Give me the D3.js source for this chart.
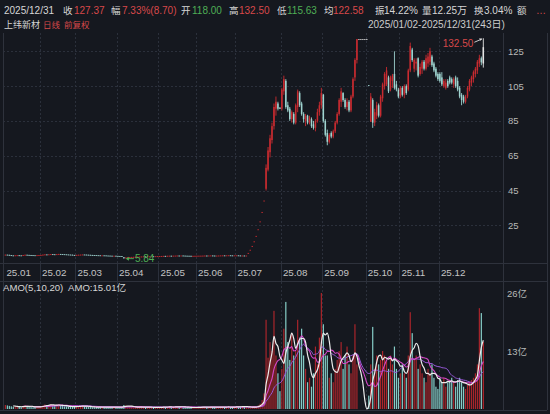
<!DOCTYPE html>
<html><head><meta charset="utf-8">
<script src="https://cdn.jsdelivr.net/npm/d3@7"></script>
<style>
html,body{margin:0;padding:0;background:#15181f;}
svg{display:block;font-family:"Liberation Sans","Noto Sans CJK SC",sans-serif;}
</style></head>
<body><svg id="c" width="550" height="414"></svg>
<script>
// ---------- DATA ----------
const monthLabels = ["25.01","25.02","25.03","25.04","25.05","25.06","25.07","25.08","25.09","25.10","25.11","25.12"];
const monthStart  = [0,18,36,57,78,97,117,140,161,183,200,220];   // trading-day index of each month's first day
const priceTicks  = [25,45,65,85,105,125];
const amoTicks    = [13,26];

const open = [
 8.05,8.10,8.02,7.85,7.70,7.62,7.75,7.80,7.72,7.68,7.90,8.05,7.98,7.92,7.85,7.80,7.76,7.82,
 7.88,7.95,8.10,8.25,8.18,8.30,8.42,8.35,8.28,8.40,8.52,8.45,8.38,8.30,8.22,8.15,8.08,7.95,
 7.90,7.98,8.05,8.12,8.20,8.15,8.08,8.02,7.96,7.90,7.85,7.80,7.76,7.70,7.72,7.68,7.60,7.55,7.50,7.45,7.48,
 7.40,7.35,7.30,6.60,6.20,6.45,6.60,6.72,6.80,6.85,6.90,6.95,7.02,7.05,7.10,7.08,7.12,7.15,7.20,7.18,7.22,
 7.25,7.30,7.35,7.40,7.38,7.45,7.50,7.48,7.52,7.55,7.60,7.58,7.62,7.55,7.50,7.48,7.45,7.40,7.42,
 7.45,7.48,7.50,7.52,7.55,7.60,7.58,7.62,7.65,7.60,7.55,7.58,7.62,7.66,7.70,7.68,7.72,7.75,7.70,7.68,
 7.70,7.72,7.65,7.60,7.62,7.58,9.12,10.94,13.13,15.76,18.91,22.69,27.23,32.67,39.21,46,57,67,74,82,92,95,92.5,
 92,102,108,94,92,86,89,84,93,101,95,89,85,88,84,86,83,81,85,90,94,
 100,85,78,73,78,76,79,84,89,96,101,97,93,96,91,99,110,120,132,132,132,132,
 132,105.6,84.5,97,84,88,94,88,98,105,106,110,103,108,112,106,103,
 99,104,100,105,103,114,126,115,118,121,112,115,119,115,118,119,122,118,115,112,
 112,110,105,104,108,110,109,106,110,108,104,100,99,96,99,103,107,109,112,114,118,121,118
];
const high = [
 8.18,8.12,8.05,7.88,7.74,7.80,7.85,7.82,7.75,7.95,8.10,8.08,8.00,7.95,7.88,7.82,7.86,7.92,
 8.00,8.15,8.30,8.28,8.35,8.48,8.45,8.38,8.45,8.58,8.55,8.48,8.40,8.32,8.25,8.18,8.10,7.98,
 8.02,8.10,8.16,8.25,8.22,8.18,8.10,8.04,7.98,7.92,7.88,7.82,7.78,7.76,7.74,7.70,7.62,7.58,7.52,7.52,7.50,
 7.42,7.38,7.32,6.70,6.52,6.66,6.78,6.85,6.90,6.95,7.00,7.06,7.10,7.14,7.14,7.16,7.20,7.24,7.24,7.26,7.30,
 7.34,7.40,7.45,7.44,7.50,7.55,7.54,7.56,7.60,7.65,7.64,7.66,7.64,7.58,7.54,7.50,7.47,7.46,7.48,
 7.52,7.54,7.56,7.60,7.64,7.63,7.66,7.70,7.68,7.62,7.62,7.66,7.70,7.75,7.74,7.76,7.80,7.78,7.73,7.74,
 7.76,7.74,7.68,7.66,7.64,7.64,9.12,10.94,13.13,15.76,18.91,22.69,27.23,32.67,39.21,60,70,77,84,95,99,96,93,
 104,111,109,96,93,91,90,95,103,102,96,90,89,88.5,88,87,85,86,92,96,104,
 100.5,86,80,78,79,80,85,90,98,104,101.5,98,98,97,100,110,121,132,132,132,132,132,
 132,105.6,101,98,92,96,95,100,107,113,116,111,111,112,125,108,104,
 105,105,106,106,115,130,127,121,121,121.5,118,120,120,123,124,127,123,119,116,113,
 113,113,109,109,109,111,110,110,111,110,105,101,100,100,105,109,111,114,116,120,123,122,132.5
];
const low = [
 8.00,7.98,7.80,7.65,7.58,7.60,7.72,7.68,7.64,7.66,7.88,7.95,7.88,7.82,7.76,7.72,7.74,7.80,
 7.85,7.92,8.08,8.15,8.15,8.28,8.32,8.25,8.26,8.38,8.42,8.35,8.26,8.18,8.12,8.05,7.92,7.86,
 7.88,7.95,8.02,8.10,8.12,8.05,7.98,7.92,7.86,7.82,7.76,7.72,7.66,7.68,7.64,7.56,7.52,7.46,7.42,7.42,7.36,
 7.30,7.26,7.15,5.84,6.10,6.40,6.56,6.68,6.76,6.82,6.86,6.92,6.98,7.02,7.04,7.05,7.10,7.12,7.14,7.15,7.18,
 7.22,7.28,7.32,7.34,7.35,7.42,7.44,7.45,7.50,7.52,7.54,7.55,7.52,7.46,7.44,7.42,7.36,7.37,7.40,
 7.42,7.45,7.47,7.50,7.52,7.54,7.55,7.58,7.56,7.52,7.52,7.55,7.58,7.62,7.64,7.65,7.68,7.66,7.64,7.65,
 7.66,7.60,7.56,7.57,7.54,7.55,9.12,10.94,13.13,15.76,18.91,22.69,27.23,32.67,39.21,45,56,64,72,80,88,91,91.8,
 91,100,92,90,85,84,83,83,90,93,88,84,82,83,83,81,80,79,84,88,92,
 84,76,71,72,75,75,78,83,88,93,96,92,91,90,90,98,108,118,132,132,132,132,
 132,105.6,84.5,81,82,86,87,87,96,103,105,101,102,104,103,102,98,
 98,99,98,100,102,113,119,113,114,110,111,112,114,114,116,117,116,113,110,108,
 107,105,104,103,104,106,106,104,104,102,98,94,95,95,98,102,105,107,110,112,116,117,115.63
];
const close = [
 8.10,8.02,7.85,7.70,7.62,7.75,7.80,7.72,7.68,7.90,8.05,7.98,7.92,7.85,7.80,7.76,7.82,7.88,
 7.95,8.10,8.25,8.18,8.30,8.42,8.35,8.28,8.40,8.52,8.45,8.38,8.30,8.22,8.15,8.08,7.95,7.90,
 7.98,8.05,8.12,8.20,8.15,8.08,8.02,7.96,7.90,7.85,7.80,7.76,7.70,7.72,7.68,7.60,7.55,7.50,7.45,7.48,7.40,
 7.35,7.30,7.20,6.20,6.45,6.60,6.72,6.80,6.85,6.90,6.95,7.02,7.05,7.10,7.08,7.12,7.15,7.20,7.18,7.22,7.25,
 7.30,7.35,7.40,7.38,7.45,7.50,7.48,7.52,7.55,7.60,7.58,7.62,7.55,7.50,7.48,7.45,7.40,7.42,7.45,
 7.48,7.50,7.52,7.55,7.60,7.58,7.62,7.65,7.60,7.55,7.58,7.62,7.66,7.70,7.68,7.72,7.75,7.70,7.68,7.70,
 7.72,7.65,7.60,7.62,7.58,7.60,9.12,10.94,13.13,15.76,18.91,22.69,27.23,32.67,39.21,58,68,75,82,93,96,92,92,
 103,109,93,91,86,90,84,94,102,94,89,86,88,84,87,82,81,85,90,94,101,
 85,77,73,77,76,79,84,89,97,102,97,93,96,91,99,109,120,132,132,132,132,132,
 132,105.6,99,84,90,94,88,99,106,112,114,102,110,111,104,103,99,
 104,100,105,101,114,128,120,120,119,111,116,119,115,121,122,125,117,114,111,109,
 108,106,108,107,105,107,107,109,105,103,99,97,96,99,104,108,110,113,115,119,121,118.67,127.37
];
// daily turnover, 亿元
const amount = [
 0.9,0.8,0.7,0.6,0.5,0.6,0.5,0.5,0.4,0.7,0.8,0.6,0.5,0.5,0.4,0.4,0.5,0.5,
 0.6,0.8,1.0,0.8,0.9,1.1,0.9,0.7,0.8,1.0,0.8,0.7,0.6,0.6,0.5,0.5,0.6,0.5,
 0.6,0.6,0.7,0.8,0.6,0.5,0.5,0.5,0.4,0.4,0.4,0.4,0.4,0.5,0.4,0.4,0.4,0.4,0.4,0.4,0.4,
 0.4,0.4,0.5,0.9,0.8,0.6,0.5,0.5,0.4,0.4,0.4,0.4,0.4,0.4,0.4,0.4,0.4,0.4,0.3,0.3,0.4,
 0.4,0.4,0.5,0.4,0.5,0.5,0.4,0.4,0.5,0.6,0.5,0.5,0.4,0.4,0.4,0.3,0.3,0.3,0.4,
 0.4,0.4,0.4,0.4,0.5,0.4,0.4,0.5,0.4,0.4,0.4,0.4,0.5,0.5,0.4,0.4,0.5,0.4,0.4,0.4,
 0.6,0.5,0.5,0.6,0.5,0.6,0.3,0.3,0.4,0.5,0.6,0.8,1.2,2.0,3.5,20.0,11.5,15.0,13.0,22.0,12.0,8.0,4.0,
 9,18,24,15,11,17,12,13,20,16,18,12,9,6,7,5,8,14,10,16,26,
 19,12,12,7,8,6,9,11,13,15,9,12,14,10,8,12,19,10,0,0,0,0,
 0,3,10,18.4,9,12,10,11,13,12,11,9,12,10,14,9,7,
 8,10,8,7,12,21.7,17,11,12,9,10,8,7,6,9,8,10,7,5,4.5,
 7,6,7,5,6,6.5,7,6,5,6.5,7,6,5,4.5,5.5,6,6.5,7,8,10,22.6,21.5,15.01
];
const maPeriods = [5,10,20];

const stockName   = "上纬新材";
const periodTags  = ["日线","前复权"];
const rangeLabel  = "2025/01/02-2025/12/31(243日)";
const dateLabel   = "2025/12/31";
const headerLabels = ["收","幅","开","高","低","均","振","量","换","额"];
const headerValues = ["127.37","7.33%(8.70)","118.00","132.50","115.63","122.58","14.22%","12.25万","3.04%","…"];

// ---------- LAYOUT / STYLE ----------
const W=550,H=414, N=close.length;
const RED="#d8484a", GREEN="#4fae55", TXT="#d6d6d6";
const UP="#c92b30", DOWN="#9fd4d0", GRID="#2b303b";
const plotL=3, plotR=503, borderR=547;
const priceTop=33, priceBot=263, bandBot=281, amoTop=282, amoBot=410;
const selectedDay = N-1;

const svg = d3.select("#c");
svg.append("rect").attr("width",W).attr("height",H).attr("fill","#15181f");

const x  = d3.scaleLinear().domain([0,N]).range([4.4,484.3]);
const xc = i => x(i+0.5);
const yP = d3.scaleLinear().domain([25,125]).range([225.3,51.3]);
const yA = d3.scaleLinear().domain([0,26]).range([409,293]);

// ---- grid ----
const grid = svg.append("g");
grid.selectAll(".hg").data(priceTicks).join("line")
  .attr("x1",plotL).attr("x2",plotR)
  .attr("y1",d=>Math.round(yP(d))+0.5).attr("y2",d=>Math.round(yP(d))+0.5)
  .attr("stroke",GRID).attr("stroke-dasharray","2,2");
[[priceTop,priceBot,"2,2"],[priceBot,bandBot,null],[amoTop,amoBot,"2,2"]].forEach(([a,b,da])=>{
  const g = grid.append("g");
  g.selectAll("line").data(monthStart.slice(1)).join("line")
   .attr("x1",d=>Math.round(x(d))+0.5).attr("x2",d=>Math.round(x(d))+0.5)
   .attr("y1",a).attr("y2",b).attr("stroke",GRID).attr("stroke-dasharray",da);
});
// frame lines
const fr = svg.append("g").attr("stroke","#2e323c").attr("stroke-width",1);
fr.append("line").attr("x1",plotL+0.5).attr("x2",plotL+0.5).attr("y1",priceTop).attr("y2",amoBot);
fr.append("line").attr("x1",plotR+0.5).attr("x2",plotR+0.5).attr("y1",priceTop).attr("y2",amoBot);
fr.append("line").attr("x1",borderR+0.5).attr("x2",borderR+0.5).attr("y1",priceTop).attr("y2",amoBot);
[priceBot,bandBot,amoBot].forEach(y=>fr.append("line").attr("x1",0).attr("x2",borderR).attr("y1",y+0.5).attr("y2",y+0.5));

// ---- axes ----
const axP = svg.append("g").attr("transform",`translate(${plotR},0)`)
  .call(d3.axisRight(yP).tickValues(priceTicks).tickSize(0).tickPadding(5));
const axA = svg.append("g").attr("transform",`translate(${plotR},0)`)
  .call(d3.axisRight(yA).tickValues(amoTicks).tickSize(0).tickPadding(4).tickFormat(d=>d+"亿"));
const axX = svg.append("g").attr("transform",`translate(0,${priceBot})`)
  .call(d3.axisBottom(x).tickValues(monthStart).tickSize(0).tickPadding(6).tickFormat((d,i)=>monthLabels[i]));
[axP,axA,axX].forEach(a=>{
  a.select(".domain").remove();
  a.selectAll("text").attr("fill","#b8b8b8").attr("font-size",9.5)
   .attr("font-family",'"Liberation Sans","Noto Sans CJK SC",sans-serif');
});
axX.selectAll("text").attr("text-anchor","start").attr("dx",1.5).attr("font-size",9.8).attr("fill","#c4c4c4");

// ---- candles ----
const idx = d3.range(N);
const colorOf = i => {
  if (i===selectedDay) return "#e4e4e4";
  const o=open[i], c=close[i], p = i>0 ? close[i-1] : o;
  if (c>o) return UP; if (c<o) return DOWN;
  return c>p ? UP : (c<p ? DOWN : "#cfcfcf");
};
const cg = svg.append("g");
cg.selectAll("line").data(idx).join("line")
  .attr("x1",xc).attr("x2",xc)
  .attr("y1",i=>yP(high[i])).attr("y2",i=>yP(low[i]))
  .attr("stroke",colorOf).attr("stroke-width",0.9);
cg.selectAll("rect").data(idx).join("rect")
  .attr("x",i=>xc(i)-0.75).attr("width",1.5)
  .attr("y",i=>yP(Math.max(open[i],close[i])))
  .attr("height",i=>Math.max(0.9,Math.abs(yP(open[i])-yP(close[i]))))
  .attr("fill",colorOf);

// max / min annotations
const maxI = d3.maxIndex(high), minI = d3.minIndex(low);
const mx = xc(maxI), my = yP(high[maxI]);
svg.append("text").attr("x",mx-10).attr("y",my+8.5).attr("text-anchor","end")
  .attr("font-size",10).attr("fill",RED).text(d3.format(".2f")(high[maxI]));
svg.append("line").attr("x1",mx-9).attr("y1",my+4).attr("x2",mx-1.5).attr("y2",my+0.8)
  .attr("stroke","#dddddd").attr("stroke-width",0.9);
svg.append("path").attr("d",`M${mx-1} ${my+0.6} l-3.2 -0.6 l1.3 2.6 z`).attr("fill","#dddddd");
const nx = xc(minI), ny = yP(low[minI]);
svg.append("line").attr("x1",nx+3).attr("x2",nx+10).attr("y1",ny).attr("y2",ny)
  .attr("stroke",GREEN).attr("stroke-width",0.9);
svg.append("path").attr("d",`M${nx+2} ${ny} l3 -2 l0 4 z`).attr("fill",GREEN);
svg.append("text").attr("x",nx+11).attr("y",ny+3.5).attr("font-size",10).attr("fill",GREEN)
  .text(d3.format(".2f")(low[minI]));

// ---- AMO bars + MAs ----
const ag = svg.append("g");
ag.selectAll("rect").data(idx.filter(i=>amount[i]>0)).join("rect")
  .attr("x",i=>xc(i)-0.6).attr("width",1.2)
  .attr("y",i=>yA(amount[i])).attr("height",i=>yA(0)-yA(amount[i]))
  .attr("fill",i=>{const c=colorOf(i); return i===selectedDay ? "#b3262c" : (c===UP ? "#a9252b" : (c===DOWN ? "#86cdc7" : "#cfcfcf"));});
const maColors = ["#ececec","#d448c8","#9658d8"];
const maWidths = [1.2,1.1,1.0];
maPeriods.map((n,k)=>({n,k})).reverse().forEach(({n,k})=>{
  const pts = idx.filter(i=>i>=n-1).map(i=>({i, v:d3.mean(amount.slice(i-n+1,i+1))}));
  ag.append("path").datum(pts)
    .attr("d",d3.line().x(d=>xc(d.i)).y(d=>yA(d.v)).curve(d3.curveMonotoneX))
    .attr("fill","none").attr("stroke",maColors[k]).attr("stroke-width",maWidths[k]);
});

// ---- header text ----
const hg = svg.append("g").attr("font-size",10);
hg.append("text").attr("x",4).attr("y",14).attr("fill",TXT).text(dateLabel);
const labelX = [63,111,181,229,277,324,375,422,474,517];
const valueX = [74,122,192,239,287,333,384,432,484,536];
const valueC = [RED,RED,GREEN,RED,GREEN,RED,TXT,TXT,TXT,RED];
headerLabels.forEach((l,k)=>{
  hg.append("text").attr("x",labelX[k]).attr("y",14).attr("fill",TXT).attr("font-size",9.5).text(l);
  hg.append("text").attr("x",valueX[k]).attr("y",14).attr("fill",valueC[k]).text(headerValues[k]);
});
hg.append("text").attr("x",4).attr("y",27.5).attr("fill",TXT).attr("font-size",9).text(stockName);
hg.append("text").attr("x",43).attr("y",27.5).attr("fill",RED).attr("font-size",8.5).text(periodTags[0]);
hg.append("text").attr("x",64).attr("y",27.5).attr("fill",RED).attr("font-size",8.5).text(periodTags[1]);
hg.append("text").attr("x",368).attr("y",27.5).attr("fill","#cccccc").text(rangeLabel);

// AMO title
const tg = svg.append("g").attr("font-size",9.6).attr("fill",TXT);
tg.append("text").attr("x",3).attr("y",291).text(`AMO(${maPeriods.join(",")})`);
tg.append("text").attr("x",68).attr("y",291).text(`AMO:${d3.format(".2f")(amount[N-1])}亿`);
</script>
</body></html>
